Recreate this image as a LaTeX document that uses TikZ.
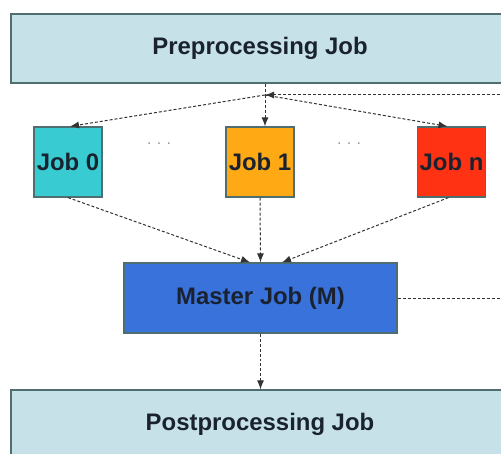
\documentclass[tikz,border=0pt]{standalone}
\usepackage{fontspec}
\setmainfont{Liberation Sans}
\usepackage{tikz}
\usetikzlibrary{arrows.meta}

\definecolor{stagefill}{HTML}{C6E2E8}
\definecolor{stageline}{HTML}{4E6E70}
\definecolor{jobzero}{HTML}{38CCD2}
\definecolor{jobone}{HTML}{FFAA14}
\definecolor{jobn}{HTML}{FF3314}
\definecolor{masterfill}{HTML}{3A72DC}
\definecolor{textnavy}{HTML}{1A2230}

\begin{document}
\begin{tikzpicture}[x=1bp,y=-1bp,
  box/.style={draw=stageline,line width=1.2bp,inner sep=0pt,
    font=\fontsize{24}{26}\selectfont\bfseries,text=textnavy},
  stage/.style={box,fill=stagefill,minimum width=498bp,minimum height=69bp},
  job/.style={box,minimum width=68bp,minimum height=70bp},
  link/.style={densely dashed,black!80,line width=1bp,-{Latex[length=9bp,width=7bp]}},
  more/.style={text=black!40,font=\fontsize{16}{16}\selectfont}]
  \useasboundingbox (0,0) rectangle (501,454);
  \clip (0,0) rectangle (501,454);
  \node[stage] (pre) at (260,48.5) {Preprocessing Job};
  \node[job,fill=jobzero] (job0) at (68,162) {Job 0};
  \node[job,fill=jobone] (job1) at (260,162) {Job 1};
  \node[job,fill=jobn] (jobn) at (451.5,162) {Job n};
  \node[more] (dots0) at (159,144) {.\,\,.\,\,.};
  \node[more] (dots1) at (349,144) {.\,\,.\,\,.};
  \node[box,fill=masterfill,minimum width=273bp,minimum height=70bp] (master) at (260.5,298) {Master Job (M)};
  \node[stage] (post) at (260,424.5) {Postprocessing Job};
  \coordinate (fork) at (265,95);
  \coordinate (feedin) at (520,95);
  \coordinate (feedout) at (520,298);
    \draw[link,-] (pre.south -| fork) -- (fork);
    \draw[link] (feedin) -- (fork);
    \draw[link] (fork) -- ([xshift=2bp]job0.north);
    \draw[link] (fork) -- (job1.north -| fork);
    \draw[link] (fork) -- ([xshift=-4bp]jobn.north);
    \draw[link] (job0.south) -- ([xshift=-10.5bp]master.north);
    \draw[link] (job1.south) -- (master.north);
    \draw[link] ([xshift=-3bp]jobn.south) -- ([xshift=21.5bp]master.north);
    \draw[link,-] (master.east) -- (feedout);
    \draw[link] (master.south) -- (post.north -| master.south);
\end{tikzpicture}
\end{document}
